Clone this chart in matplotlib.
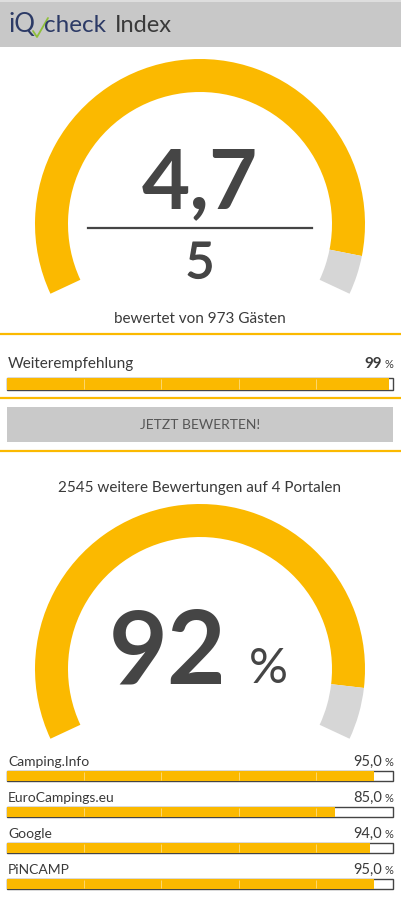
import matplotlib.pyplot as plt
import matplotlib.patheffects as pe
from matplotlib.patches import Wedge, Rectangle

plt.rcParams['font.family'] = ['Lato', 'DejaVu Sans']

# data
rating = 4.7
rating_max = 5
guests = 973
recommend = 99
extra_reviews = 2545
portal_count = 4
portal_score = 92
portals = ['Camping.Info', 'EuroCampings.eu', 'Google', 'PiNCAMP']
portal_values = [95.0, 85.0, 94.0, 95.0]

YELLOW = '#fbb900'
GREY = '#d6d6d6'
DARK = '#454545'
TEXT = '#3a3a3a'

W, H = 401, 900
fig = plt.figure(figsize=(W / 100, H / 100), dpi=100)
ax = fig.add_axes([0, 0, 1, 1])
ax.set_xlim(0, W)
ax.set_ylim(H, 0)
ax.axis('off')


def gauge(cy, frac, cx=200, r=165, width=33, start=155, span=230):
    mid = start + frac * span
    ax.add_patch(Wedge((cx, cy), r, start, mid, width=width, color=YELLOW, lw=0))
    ax.add_patch(Wedge((cx, cy), r, mid, start + span, width=width, color=GREY, lw=0))


def bar(y, value, h=11, x0=7, x1=393):
    ax.barh(y, x1 - x0, left=x0, height=h, color='white', edgecolor='#444444', lw=1, zorder=2)
    ax.barh(y, (x1 - x0) * value / 100, left=x0, height=h, color=YELLOW, lw=0, zorder=3)
    ticks = [x0 + (x1 - x0) * k / 5 for k in range(1, 5)]
    ax.vlines(ticks, y - h / 2 + 1, y + h / 2 - 1, color='white', lw=0.6, alpha=0.5, zorder=4)


# header
ax.add_patch(Rectangle((0, 0), W, 47, color='#c8c8c8', lw=0))
ax.axhline(1, color='#dedede', lw=1.5)
ax.text(9, 25, 'iQ', fontsize=18.5, color='#2c3a66', va='center', ha='left')
ax.text(44, 25, 'check', fontsize=17.5, color='#2c3a66', va='center', ha='left')
ax.plot([33, 37, 48], [31, 37, 18], color='#8fbf3a', lw=1.3, solid_capstyle='round')
ax.text(115, 25, 'Index', fontsize=17, color=TEXT, va='center', ha='left')

# first gauge
gauge(224, rating / rating_max)
ax.text(200, 208, f'{rating:.1f}'.replace('.', ','), fontsize=60, fontweight='bold',
        color=DARK, ha='center', va='baseline')
ax.plot([88, 312], [228, 228], color=DARK, lw=1.6)
ax.text(200, 278, str(rating_max), fontsize=36, color=DARK, ha='center', va='baseline',
        path_effects=[pe.withStroke(linewidth=1.0, foreground=DARK)])
ax.text(200, 319, f'bewertet von {guests} Gästen', fontsize=11, color=TEXT,
        ha='center', va='center')
ax.axhline(334, xmin=0, xmax=1, color=YELLOW, lw=1.6)

# recommendation
ax.text(8, 364, 'Weiterempfehlung', fontsize=11, color=TEXT, ha='left', va='center')
ax.text(382, 364, str(recommend), fontsize=11, fontweight='bold', color=TEXT,
        ha='right', va='center')
ax.text(393, 365, '%', fontsize=8, color=TEXT, ha='right', va='center')
bar(384, recommend, h=12)
ax.axhline(398, color=YELLOW, lw=1.6)

# button
ax.add_patch(Rectangle((7, 407), 386, 35, color='#c9c9c9', lw=0))
ax.text(200, 425, 'JETZT BEWERTEN!', fontsize=10, color='#555555', ha='center', va='center')
ax.axhline(451, color=YELLOW, lw=1.6)

# second gauge
ax.text(200, 488, f'{extra_reviews} weitere Bewertungen auf {portal_count} Portalen',
        fontsize=11, color=TEXT, ha='center', va='center')
gauge(669, portal_score / 100)
ax.text(168, 683, str(portal_score), fontsize=73, fontweight='bold', color=DARK,
        ha='center', va='baseline')
ax.text(268, 683, '%', fontsize=35, color=DARK, ha='center', va='baseline')

# portals
for i, (name, val) in enumerate(zip(portals, portal_values)):
    ty = 762 + i * 36
    ax.text(8, ty, name, fontsize=10, color=TEXT, ha='left', va='center')
    ax.text(382, ty, f'{val:.1f}'.replace('.', ','), fontsize=10.5, color=TEXT,
            ha='right', va='center')
    ax.text(393, ty + 1, '%', fontsize=8, color=TEXT, ha='right', va='center')
    bar(ty + 14, val, h=10)

fig.savefig('out.png', dpi=100)
